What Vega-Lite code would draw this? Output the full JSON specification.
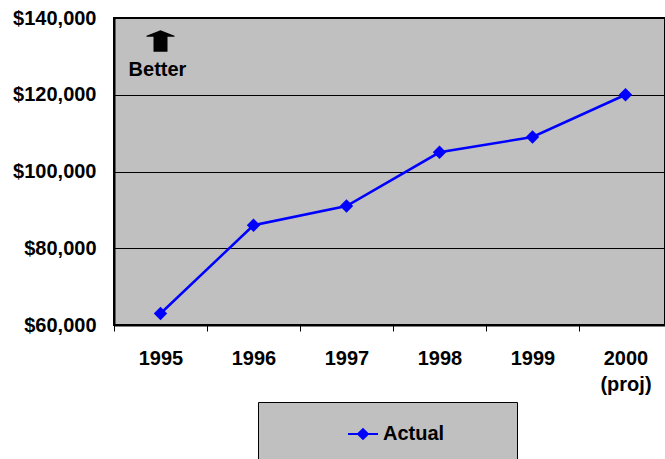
{
  "$schema": "https://vega.github.io/schema/vega-lite/v6.json",
  "autosize": {"type": "none"},
  "padding": {"left": 114, "top": 18, "right": 0, "bottom": 134},
  "width": 551,
  "height": 307,
  "background": "white",
  "config": {
    "font": "Liberation Sans",
    "view": {"fill": "#C0C0C0", "stroke": "black", "strokeWidth": 2},
    "axis": {"labelFont": "Liberation Sans", "labelFontWeight": "bold", "labelFontSize": 20, "labelColor": "black", "domainColor": "black", "domainWidth": 2, "tickColor": "black", "gridColor": "black", "gridWidth": 1, "gridOpacity": 1, "title": null}
  },
  "layer": [
    {
      "data": {"values": [
        {"year": "1995", "value": 63000, "series": "Actual"},
        {"year": "1996", "value": 86000, "series": "Actual"},
        {"year": "1997", "value": 91000, "series": "Actual"},
        {"year": "1998", "value": 105000, "series": "Actual"},
        {"year": "1999", "value": 109000, "series": "Actual"},
        {"year": "2000", "value": 120000, "series": "Actual"}
      ]},
      "layer": [
        {
          "mark": {"type": "line", "color": "#0000FF", "strokeWidth": 2.5},
          "encoding": {
            "x": {"field": "year", "type": "nominal", "sort": null,
              "scale": {"range": [0, 558], "paddingInner": 0, "paddingOuter": 0},
              "axis": {"labelAngle": 0, "tickBand": "extent", "tickSize": 6, "tickWidth": 1, "labelPadding": 17, "grid": false,
                "labelExpr": "datum.value == '2000' ? ['2000', '(proj)'] : datum.value", "labelLineHeight": 26}},
            "y": {"field": "value", "type": "quantitative",
              "scale": {"domain": [60000, 140000], "nice": false, "zero": false},
              "axis": {"values": [60000, 80000, 100000, 120000, 140000], "format": "$,.0f", "ticks": false, "labelPadding": 18, "grid": true}}
          }
        },
        {
          "mark": {"type": "point", "shape": "diamond", "filled": true, "size": 180, "opacity": 1},
          "encoding": {
            "x": {"field": "year", "type": "nominal", "sort": null},
            "y": {"field": "value", "type": "quantitative"},
            "color": {"field": "series", "type": "nominal",
              "scale": {"range": ["#0000FF"]},
              "legend": {
                "orient": "none", "legendX": 144, "legendY": 384, "direction": "vertical",
                "fillColor": "#C0C0C0", "strokeColor": "black", "padding": 16,
                "symbolType": "M -1 0 L 1 0 M -0.33 0 L 0 -0.33 L 0.33 0 L 0 0.33 Z",
                "symbolSize": 900, "symbolOffset": 73, "labelOffset": 4,
                "symbolStrokeColor": "#0000FF", "symbolStrokeWidth": 2, "symbolFillColor": "#0000FF",
                "labelFont": "Liberation Sans", "labelFontWeight": "bold", "labelFontSize": 20, "labelColor": "black",
                "title": "\u00a0", "titleOrient": "right", "titlePadding": 57, "titleFontSize": 20
              }
            }
          }
        }
      ]
    },
    {
      "data": {"values": [{"year": "1995", "value": 134000}]},
      "mark": {"type": "point", "shape": "M 0 -0.77 L 1 -0.38 L 1 -0.3 L 0.5 -0.3 L 0.5 0.77 L -0.5 0.77 L -0.5 -0.3 L -1 -0.3 L -1 -0.38 Z", "size": 784, "filled": true, "color": "black", "opacity": 1, "dx": -2},
      "encoding": {
        "x": {"field": "year", "type": "nominal"},
        "y": {"field": "value", "type": "quantitative"}
      }
    },
    {
      "data": {"values": [{"year": "1995", "value": 124850, "label": "Better"}]},
      "mark": {"type": "text", "font": "Liberation Sans", "fontWeight": "bold", "fontSize": 20, "color": "black", "baseline": "alphabetic", "align": "center", "dx": -3},
      "encoding": {
        "x": {"field": "year", "type": "nominal"},
        "y": {"field": "value", "type": "quantitative"},
        "text": {"field": "label"}
      }
    }
  ]
}
